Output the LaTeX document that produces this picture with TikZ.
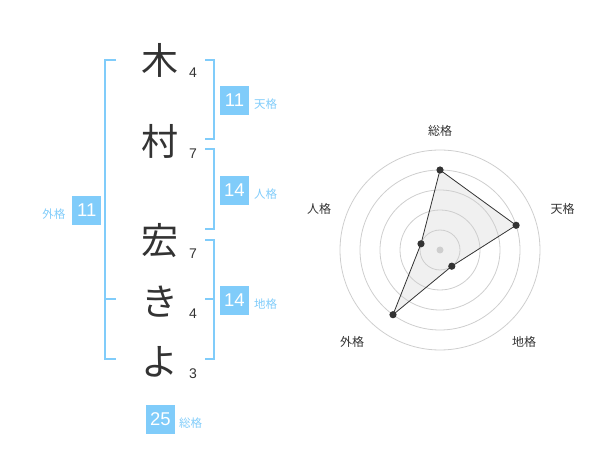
\documentclass[tikz,border=0pt]{standalone}
\usepackage{fontspec}
\setmainfont{Liberation Sans}
\newfontfamily\jp{Noto Sans CJK JP}
\definecolor{kblue}{RGB}{128,204,250}
\definecolor{ktext}{RGB}{51,51,51}
\definecolor{kgrid}{RGB}{206,206,206}
\definecolor{kfill}{RGB}{240,240,240}
\begin{document}
\begin{tikzpicture}[x=1pt,y=-1pt,
  kanji/.style={font=\jp\fontsize{37}{37}\selectfont, text=ktext, anchor=base, inner sep=0pt},
  strokes/.style={font=\fontsize{14}{14}\selectfont, text=ktext, anchor=base, inner sep=0pt},
  valbox/.style={fill=kblue, text=white, minimum size=29pt, inner sep=0pt, font=\fontsize{18.5}{18.5}\selectfont},
  gname/.style={text=kblue, font=\jp\fontsize{11.5}{11.5}\selectfont, inner sep=0pt},
  bracket/.style={draw=kblue, line width=2pt},
  ring/.style={draw=kgrid, line width=0.8pt},
  axislabel/.style={font=\jp\fontsize{12}{12}\selectfont, text=ktext, inner sep=0pt},
  vdot/.style={fill=ktext, draw=none},
]
\useasboundingbox (0,0) rectangle (600,470);

% characters
\node[kanji] (c1) at (160,75) {木};
\node[kanji] (c2) at (160,156) {村};
\node[kanji] (c3) at (160,255) {宏};
\node[kanji] (c4) at (160,316) {き};
\node[kanji] (c5) at (160,376) {よ};

% stroke counts
\node[strokes] (n1) at (193,77.3) {4};
\node[strokes] (n2) at (193,158.3) {7};
\node[strokes] (n3) at (193,258.3) {7};
\node[strokes] (n4) at (193,318.3) {4};
\node[strokes] (n5) at (193,379) {3};

% brackets
\draw[bracket] (116,60) -- (105,60) -- (105,359) -- (116,359);
\draw[bracket] (105,299) -- (116,299);
\draw[bracket] (205,60) -- (214,60) -- (214,139) -- (205,139);
\draw[bracket] (205,149) -- (214,149) -- (214,229) -- (205,229);
\draw[bracket] (205,240) -- (214,240) -- (214,359) -- (205,359);
\draw[bracket] (205,299) -- (214,299);

% value boxes
\node[valbox] (ten) at (234.5,100.5) {11};
\node[gname, anchor=west] (tenL) at (254,104.5) {天格};
\node[valbox] (jin) at (234.5,190.3) {14};
\node[gname, anchor=west] (jinL) at (254,194.3) {人格};
\node[valbox] (chi) at (234.5,300.5) {14};
\node[gname, anchor=west] (chiL) at (254,304.5) {地格};
\node[valbox] (gai) at (86.7,210.5) {11};
\node[gname, anchor=east] (gaiL) at (65.5,214.5) {外格};
\node[valbox] (sou) at (160.3,419.3) {25};
\node[gname, anchor=west] (souL) at (179,423.3) {総格};

% radar chart
\coordinate (ctr) at (440,250);
\coordinate (pS) at (440,170);
\coordinate (pT) at (516.1,225.3);
\coordinate (pC) at (451.8,266.2);
\coordinate (pG) at (393.0,314.7);
\coordinate (pJ) at (421.0,243.8);
\fill[kfill] (pS) -- (pT) -- (pC) -- (pG) -- (pJ) -- cycle;
\foreach \r in {20,40,60,80,100} \draw[ring] (ctr) circle[radius=\r];
\draw[ktext, line width=0.8pt] (pS) -- (pT) -- (pC) -- (pG) -- (pJ) -- cycle;
\fill[kgrid] (ctr) circle[radius=3.5];
\foreach \p in {pS,pT,pC,pG,pJ} \fill[vdot] (\p) circle[radius=3.6];

\node[axislabel] (aS) at (440,130.5) {総格};
\node[axislabel] (aT) at (562.5,208.5) {天格};
\node[axislabel] (aC) at (524,342) {地格};
\node[axislabel] (aG) at (352,342) {外格};
\node[axislabel] (aJ) at (319,208.5) {人格};
\end{tikzpicture}
\end{document}
